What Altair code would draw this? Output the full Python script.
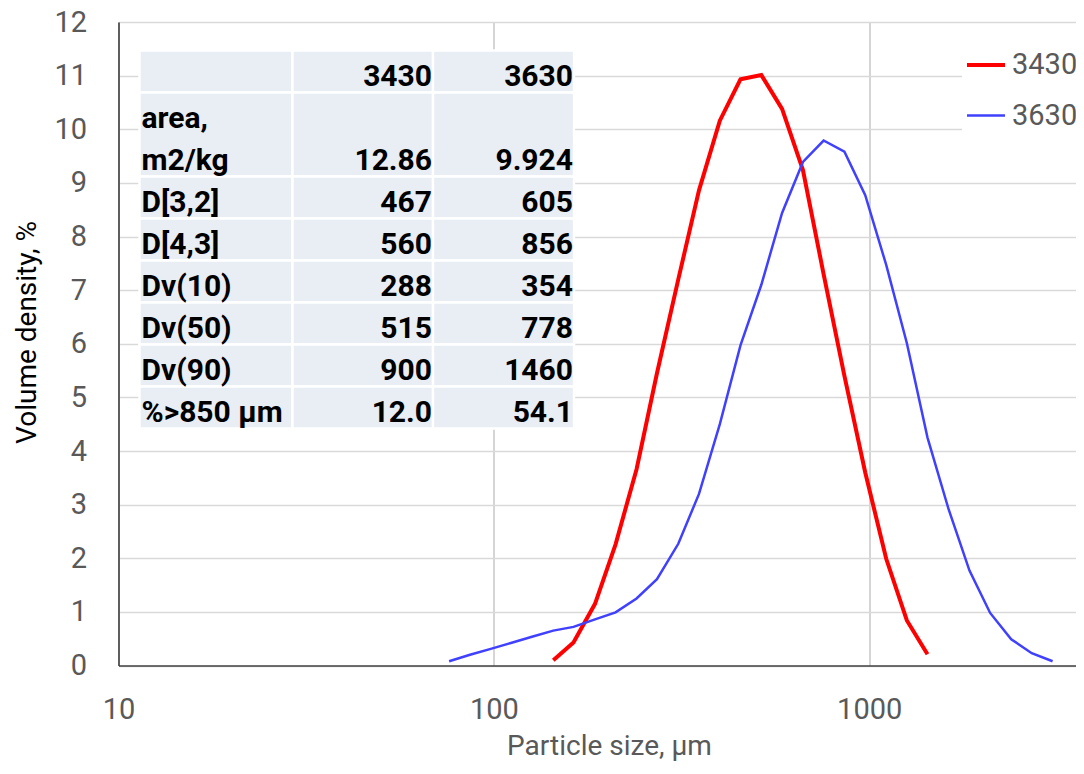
import altair as alt
import pandas as pd

# ---- data ----
sizes_3430 = [144, 163, 186, 211, 240, 272, 310, 352, 400, 454, 516, 586, 666,
              756, 859, 976, 1110, 1260, 1430]
density_3430 = [0.10, 0.43, 1.15, 2.26, 3.66, 5.45, 7.2, 8.86, 10.16, 10.93, 11.01,
                10.38, 9.24, 7.3, 5.4, 3.6, 1.99, 0.84, 0.21]

sizes_3630 = [76.0, 86.4, 98.1, 111, 127, 144, 163, 186, 211, 240, 272, 310, 352,
              400, 454, 516, 586, 666, 756, 859, 976, 1110, 1260, 1430, 1630, 1850,
              2100, 2390, 2710, 3080]
density_3630 = [0.08, 0.20, 0.31, 0.42, 0.54, 0.65, 0.72, 0.86, 0.99, 1.25, 1.61,
                2.27, 3.2, 4.5, 5.97, 7.1, 8.44, 9.39, 9.79, 9.58, 8.77, 7.47, 6.01,
                4.25, 2.9, 1.77, 0.98, 0.49, 0.23, 0.08]

series_names = ["3430", "3630"]
series_colors = ["#FF0000", "#4040FF"]
series_widths = [4, 2.5]

x_ticks = [10, 100, 1000]
y_ticks = list(range(0, 13))

table_header = ["", "3430", "3630"]
table_labels = ["area,\nm2/kg", "D[3,2]", "D[4,3]", "Dv(10)", "Dv(50)", "Dv(90)", "%>850 µm"]
table_3430 = ["12.86", "467", "560", "288", "515", "900", "12.0"]
table_3630 = ["9.924", "605", "856", "354", "778", "1460", "54.1"]
row_heights = [1, 2, 1, 1, 1, 1, 1, 1]  # header + rows, in row units

# ---- build tables ----
lines_df = pd.concat([
    pd.DataFrame({"size": sizes_3430, "density": density_3430, "series": series_names[0]}),
    pd.DataFrame({"size": sizes_3630, "density": density_3630, "series": series_names[1]}),
])

edges = [0]
for h in row_heights:
    edges.append(edges[-1] + h)

cells = []
for r in range(len(row_heights)):
    for c in range(3):
        cells.append({"x0": c, "x1": c + 1, "y0": edges[r], "y1": edges[r + 1]})
cells_df = pd.DataFrame(cells)

base_off = 0.16
left_txt, right_txt = [], []
for c, h in enumerate(table_header):
    if h:
        right_txt.append({"tx": c + 1, "ty": edges[1] - base_off, "t": h})
for i, lab in enumerate(table_labels):
    bottom = edges[i + 2]
    parts = lab.split("\n")
    for j, p in enumerate(reversed(parts)):
        left_txt.append({"tx": 0, "ty": bottom - base_off - j * 1.0, "t": p})
    right_txt.append({"tx": 2, "ty": bottom - base_off, "t": table_3430[i]})
    right_txt.append({"tx": 3, "ty": bottom - base_off, "t": table_3630[i]})
left_df = pd.DataFrame(left_txt)
right_df = pd.DataFrame(right_txt)

tx_scale = alt.Scale(domain=[0, 1, 2, 3], range=[21, 174, 314.5, 455.5], nice=False, zero=False)
ty_scale = alt.Scale(domain=[0, 9], range=[28.5, 406.5], nice=False, zero=False)

rects = alt.Chart(cells_df).mark_rect(fill="#E9EDF4", stroke="white", strokeWidth=2.4).encode(
    x=alt.X("x0:Q", scale=tx_scale, axis=None),
    x2="x1:Q",
    y=alt.Y("y0:Q", scale=ty_scale, axis=None),
    y2="y1:Q",
)
txt_left = alt.Chart(left_df).mark_text(
    align="left", baseline="alphabetic", dx=2, font="Roboto", fontWeight="bold",
    fontSize=30, color="black"
).encode(
    x=alt.X("tx:Q", scale=tx_scale, axis=None),
    y=alt.Y("ty:Q", scale=ty_scale, axis=None),
    text="t:N",
)
txt_right = alt.Chart(right_df).mark_text(
    align="right", baseline="alphabetic", dx=-1, font="Roboto", fontWeight="bold",
    fontSize=30, color="black"
).encode(
    x=alt.X("tx:Q", scale=tx_scale, axis=None),
    y=alt.Y("ty:Q", scale=ty_scale, axis=None),
    text="t:N",
)
table = alt.layer(rects, txt_left, txt_right)

legend = alt.Legend(
    orient="none", legendX=843.5, legendY=19, title=None, symbolType="stroke",
    symbolSize=1444, labelFontSize=29, labelColor="#595959", labelFont="Roboto",
    fillColor="white", padding=3, rowPadding=15, labelOffset=5,
)

lines = alt.Chart(lines_df).mark_line(interpolate="linear").encode(
    x=alt.X("size:Q",
            scale=alt.Scale(type="log", domain=[10, 3556], nice=False),
            axis=alt.Axis(orient="bottom", values=x_ticks, format="d", ticks=False,
                          grid=True, labelFlush=False,
                          title="Particle size, µm", labelPadding=30,
                          titleX=490.5, titleY=81, titleBaseline="middle",
                          titleColor="#595959", gridColor="#BFBFBF")),
    y=alt.Y("density:Q",
            scale=alt.Scale(domain=[0, 12], nice=False),
            axis=alt.Axis(orient="left", values=y_ticks, ticks=False,
                          grid=True, labelFlush=False,
                          title="Volume density, %", labelPadding=32,
                          titleX=-91.5, titleY=310, titleBaseline="middle",
                          titleColor="#000000", gridColor="#D9D9D9")),
    color=alt.Color("series:N", scale=alt.Scale(domain=series_names, range=series_colors),
                    legend=legend),
    strokeWidth=alt.StrokeWidth("series:N",
                                scale=alt.Scale(domain=series_names, range=series_widths),
                                legend=legend),
)

chart = alt.layer(table, lines).resolve_scale(
    x="independent", y="independent"
).properties(
    width=957.5, height=643.5,
    autosize=alt.AutoSizeParams(type="none"),
    padding={"left": 110.5, "top": 14, "right": 0, "bottom": 100},
    background="white",
).configure_view(stroke=None).configure_axis(
    labelFont="Roboto", labelFontSize=29, labelColor="#595959",
    titleFont="Roboto", titleFontSize=28, titleFontWeight="normal",
    domainColor="#404040", domainWidth=1.6, gridWidth=1.3,
)

chart.save("out.html", embed_options={"renderer": "svg", "actions": False})
